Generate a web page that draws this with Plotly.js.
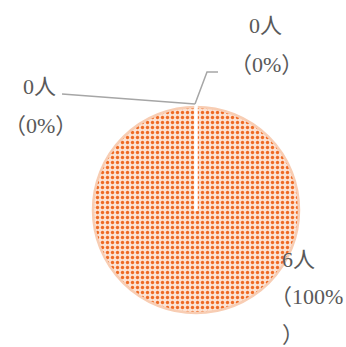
<!DOCTYPE html>
<html>
<head>
<meta charset="utf-8">
<script src="https://cdn.plot.ly/plotly-3.0.1.min.js"></script>
<style>html,body{margin:0;padding:0;background:#fff;}#chart{width:346px;height:347px;}</style>
</head>
<body>
<div id="chart"></div>
<script>
const categories = ['項目A', '項目B', '項目C'];
const values = [0, 0, 6];
const unit = '人';

const W = 346, H = 347;
const px = x => x / W;
const py = y => 1 - y / H;
const total = values.reduce((a, b) => a + b, 0);
const pct = values.map(v => Math.round(v / total * 100));

const font = {family: '"Liberation Serif", "Noto Sans CJK JP", serif', size: 22, color: '#595959'};

// label placement (layout only): [slice index, lines with pixel centres]
const labelPos = [
  {i: 0, lines: [[265, 26], [266, 65]]},
  {i: 1, lines: [[39, 86], [40, 125]]},
  {i: 2, lines: [[298, 259], [306, 296], [293, 334]]}
];

const annotations = [];
labelPos.forEach(lp => {
  const v = values[lp.i], p = pct[lp.i];
  let texts;
  if (lp.lines.length === 2) texts = [v + unit, '（' + p + '%）'];
  else texts = [v + unit, '（' + p + '%', '）'];
  texts.forEach((t, k) => {
    annotations.push({
      text: t, x: px(lp.lines[k][0]), y: py(lp.lines[k][1]),
      xref: 'paper', yref: 'paper', showarrow: false,
      xanchor: 'center', yanchor: 'middle', font: font
    });
  });
});

const leader = {type: 'path', xref: 'paper', yref: 'paper', line: {color: '#A6A6A6', width: 1.5}};
const shapes = [
  Object.assign({}, leader, {path: `M ${px(62)} ${py(94)} L ${px(195)} ${py(104)}`}),
  Object.assign({}, leader, {path: `M ${px(195)} ${py(104)} L ${px(207)} ${py(72)} L ${px(218)} ${py(72)}`}),
  // white border of the zero-size slices (center to top)
  {type: 'line', xref: 'paper', yref: 'paper', layer: 'above',
   x0: px(196), y0: py(211), x1: px(196), y1: py(105), line: {color: '#FFFFFF', width: 3.5}}
];

const trace = {
  type: 'pie',
  labels: categories,
  values: values,
  sort: false,
  direction: 'clockwise',
  rotation: 0,
  textinfo: 'none',
  hoverinfo: 'none',
  showlegend: false,
  domain: {x: [px(93), px(299)], y: [py(313), py(107)]},
  marker: {
    colors: ['#FADCCB', '#FADCCB', '#FADCCB'],
    line: {color: ['#FFFFFF', '#FFFFFF', '#F8CDB3'], width: [3, 3, 2.5]},
    pattern: {shape: '.', fgcolor: '#EE6A24', bgcolor: '#FCE2D3', size: 5, solidity: 0.35}
  }
};

Plotly.newPlot('chart', [trace], {
  width: W, height: H,
  margin: {l: 0, r: 0, t: 0, b: 0},
  paper_bgcolor: '#FFFFFF', plot_bgcolor: '#FFFFFF',
  showlegend: false,
  annotations: annotations,
  shapes: shapes
}, {staticPlot: true});
</script>
</body>
</html>
